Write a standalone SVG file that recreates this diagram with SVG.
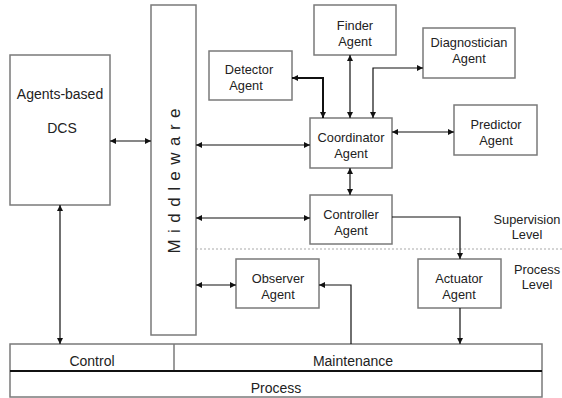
<svg xmlns="http://www.w3.org/2000/svg" width="562" height="398" viewBox="0 0 562 398">
<style>
.box{fill:#fff;stroke:#7a7a7a;stroke-width:1.5}
.t{font-family:"Liberation Sans",Arial,sans-serif;font-size:12.8px;fill:#222;text-anchor:middle}
.b{font-family:"Liberation Sans",Arial,sans-serif;font-size:14px;fill:#222;text-anchor:middle}
.c{fill:none;stroke:#111;stroke-width:1.2}
.c2{fill:none;stroke:#111;stroke-width:2}
</style>
<defs>
<marker id="a" viewBox="0 0 6 6" refX="6" refY="3" markerWidth="6" markerHeight="6" markerUnits="userSpaceOnUse" orient="auto-start-reverse">
<path d="M0,0 L6,3 L0,6 z" fill="#111"/>
</marker>
</defs>
<rect width="562" height="398" fill="#fff"/>
<line x1="196" y1="249" x2="562" y2="249" stroke="#aaa" stroke-width="1.2" stroke-dasharray="2,2"/>
<g id="dcs"><rect class="box" x="10" y="55" width="100" height="150"/>
<text class="b" x="60" y="99">Agents-based</text><text class="b" x="62" y="133">DCS</text></g>
<g id="middleware"><rect class="box" x="151" y="5" width="45" height="330"/>
<text class="b" style="font-size:17px" transform="translate(180,181) rotate(-90)" x="0" y="0" textLength="145" lengthAdjust="spacing">Middleware</text></g>
<g id="detector"><rect class="box" x="209" y="51" width="83" height="49"/>
<text class="t" x="249" y="74">Detector</text><text class="t" x="246" y="90">Agent</text></g>
<g id="finder"><rect class="box" x="314" y="5" width="82" height="50"/>
<text class="t" x="355" y="30">Finder</text><text class="t" x="355" y="46">Agent</text></g>
<g id="diagnostician"><rect class="box" x="423" y="28" width="92" height="50"/>
<text class="t" x="469" y="47">Diagnostician</text><text class="t" x="469" y="63">Agent</text></g>
<g id="coordinator"><rect class="box" x="310" y="118" width="82" height="50"/>
<text class="t" x="351" y="142">Coordinator</text><text class="t" x="351" y="158">Agent</text></g>
<g id="predictor"><rect class="box" x="454" y="105" width="83" height="50"/>
<text class="t" x="496" y="129">Predictor</text><text class="t" x="496" y="145">Agent</text></g>
<g id="controller"><rect class="box" x="310" y="195" width="82" height="49"/>
<text class="t" x="351" y="219">Controller</text><text class="t" x="351" y="235">Agent</text></g>
<g id="observer"><rect class="box" x="236" y="259" width="83" height="49"/>
<text class="t" x="278" y="283">Observer</text><text class="t" x="278" y="299">Agent</text></g>
<g id="actuator"><rect class="box" x="418" y="259" width="83" height="49"/>
<text class="t" x="459" y="283">Actuator</text><text class="t" x="459" y="299">Agent</text></g>
<g id="levels">
<text class="t" x="527" y="224">Supervision</text><text class="t" x="527" y="239">Level</text>
<text class="t" x="537" y="274">Process</text><text class="t" x="537" y="289">Level</text></g>
<g id="bar">
<rect class="box" x="10" y="344" width="532" height="53"/>
<line x1="174" y1="344" x2="174" y2="371" stroke="#7a7a7a" stroke-width="1.5"/>
<line x1="10" y1="371" x2="542" y2="371" stroke="#111" stroke-width="2"/>
<text class="b" x="92" y="366">Control</text>
<text class="b" x="353" y="366">Maintenance</text>
<text class="b" x="276" y="393">Process</text></g>
<g id="connectors">
<path class="c" d="M110 141 H151" marker-start="url(#a)" marker-end="url(#a)"/>
<path class="c" d="M196 145 H310" marker-start="url(#a)" marker-end="url(#a)"/>
<path class="c" d="M196 218 H310" marker-start="url(#a)" marker-end="url(#a)"/>
<path class="c" d="M196 285 H236" marker-start="url(#a)" marker-end="url(#a)"/>
<path class="c" d="M60 205 V344" marker-start="url(#a)" marker-end="url(#a)"/>
<path class="c2" d="M292 78 H323 V118" marker-start="url(#a)" marker-end="url(#a)"/>
<path class="c" d="M350 55 V118" marker-start="url(#a)" marker-end="url(#a)"/>
<path class="c" d="M373 118 V68 H423" marker-start="url(#a)" marker-end="url(#a)"/>
<path class="c" d="M392 132 H454" marker-start="url(#a)" marker-end="url(#a)"/>
<path class="c" d="M350 168 V195" marker-start="url(#a)" marker-end="url(#a)"/>
<path class="c" d="M392 217 H460 V259" marker-end="url(#a)"/>
<path class="c" d="M460 308 V344" marker-end="url(#a)"/>
<path class="c" d="M351 344 V285 H319" marker-end="url(#a)"/>
</g>
</svg>
